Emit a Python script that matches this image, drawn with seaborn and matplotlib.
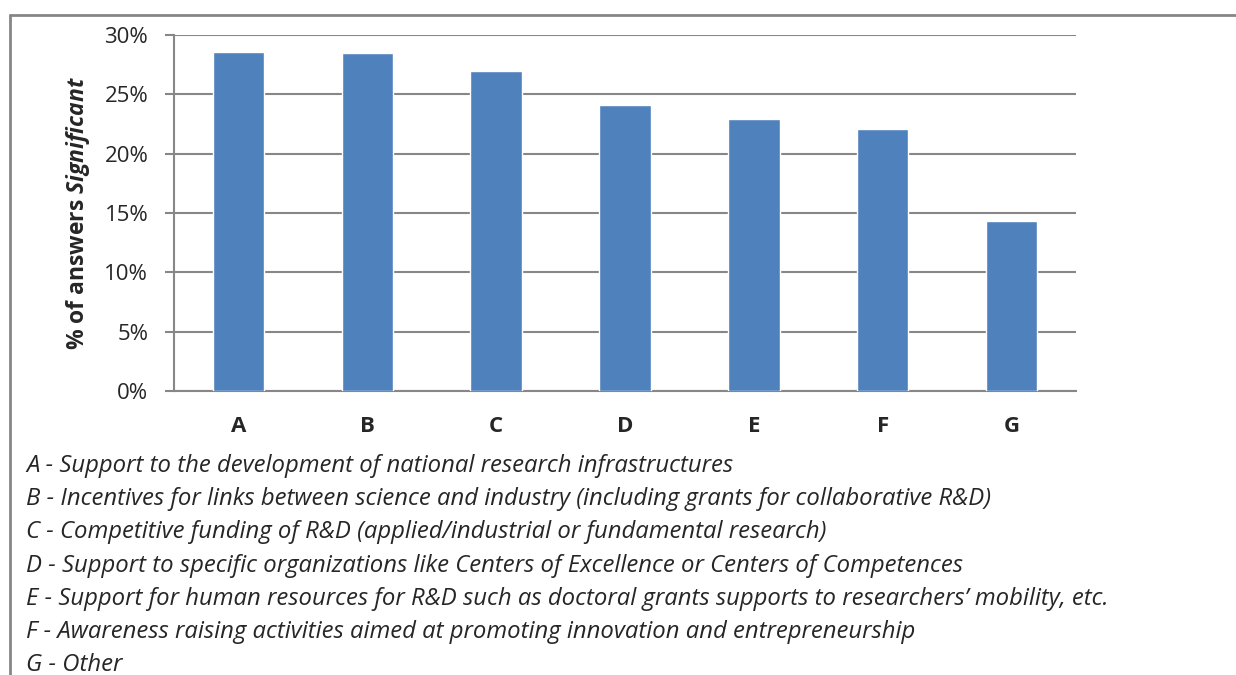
import matplotlib.pyplot as plt
import seaborn as sns
import pandas as pd
from matplotlib.lines import Line2D
from matplotlib.ticker import PercentFormatter

categories = ["A", "B", "C", "D", "E", "F", "G"]
values = [28.6, 28.45, 26.95, 24.1, 22.9, 22.05, 14.3]
yticks = [0, 5, 10, 15, 20, 25, 30]
descriptions = [
    "A - Support to the development of national research infrastructures",
    "B - Incentives for links between science and industry (including grants for collaborative R&D)",
    "C - Competitive funding of R&D (applied/industrial or fundamental research)",
    "D - Support to specific organizations like Centers of Excellence or Centers of Competences",
    "E - Support for human resources for R&D such as doctoral grants supports to researchers\u2019 mobility, etc.",
    "F - Awareness raising activities aimed at promoting innovation and entrepreneurship",
    "G - Other",
]

sns.set_style("white")
plt.rcParams["font.family"] = ["Open Sans", "DejaVu Sans"]
plt.rcParams["mathtext.fontset"] = "custom"
plt.rcParams["mathtext.bfit"] = "Open Sans:italic:bold"
plt.rcParams["mathtext.it"] = "Open Sans:italic"

df = pd.DataFrame({"cat": categories, "val": values})

fig = plt.figure(figsize=(12.36, 6.75), dpi=100)
ax = fig.add_axes([174 / 1236, 1 - 391 / 675, 902 / 1236, 356 / 675])

sns.barplot(data=df, x="cat", y="val", color="#4f81bd", width=0.4,
            saturation=1, ax=ax, zorder=3)

grid_col = "#878787"
ax.set_ylim(0, 30)
ax.set_yticks(yticks)
ax.yaxis.set_major_formatter(PercentFormatter(decimals=0))
ax.grid(axis="y", color=grid_col, linewidth=1.5, zorder=0)
ax.set_axisbelow(True)
for s in ["top", "right"]:
    ax.spines[s].set_visible(False)
for s in ["left", "bottom"]:
    ax.spines[s].set_color(grid_col)
    ax.spines[s].set_linewidth(1.5)

ax.tick_params(axis="y", which="major", length=6.5, width=1.5, color=grid_col,
               labelsize=16, pad=12, left=True)
ax.tick_params(axis="x", length=0, labelsize=16, pad=18)
for lbl in ax.get_xticklabels():
    lbl.set_fontweight("bold")

ax.set_xlabel("")
ax.set_ylabel(r"% of answers $\mathbfit{Significant}$", fontsize=16.5,
              fontweight="bold", labelpad=9)

# legend lines below the chart
y0 = 1 - 466 / 675
step = 33.2 / 675
for i, t in enumerate(descriptions):
    fig.text(26 / 1236, y0 - i * step, t, fontsize=17.2, style="italic",
             va="center", ha="left")

# outer border (left and top only)
bx = 10 / 1236
by = 1 - 15 / 675
fig.add_artist(Line2D([bx, bx], [0, by], transform=fig.transFigure,
                      color="#868686", linewidth=2))
fig.add_artist(Line2D([bx, 1], [by, by], transform=fig.transFigure,
                      color="#868686", linewidth=2))

fig.savefig("out.png", dpi=100)
